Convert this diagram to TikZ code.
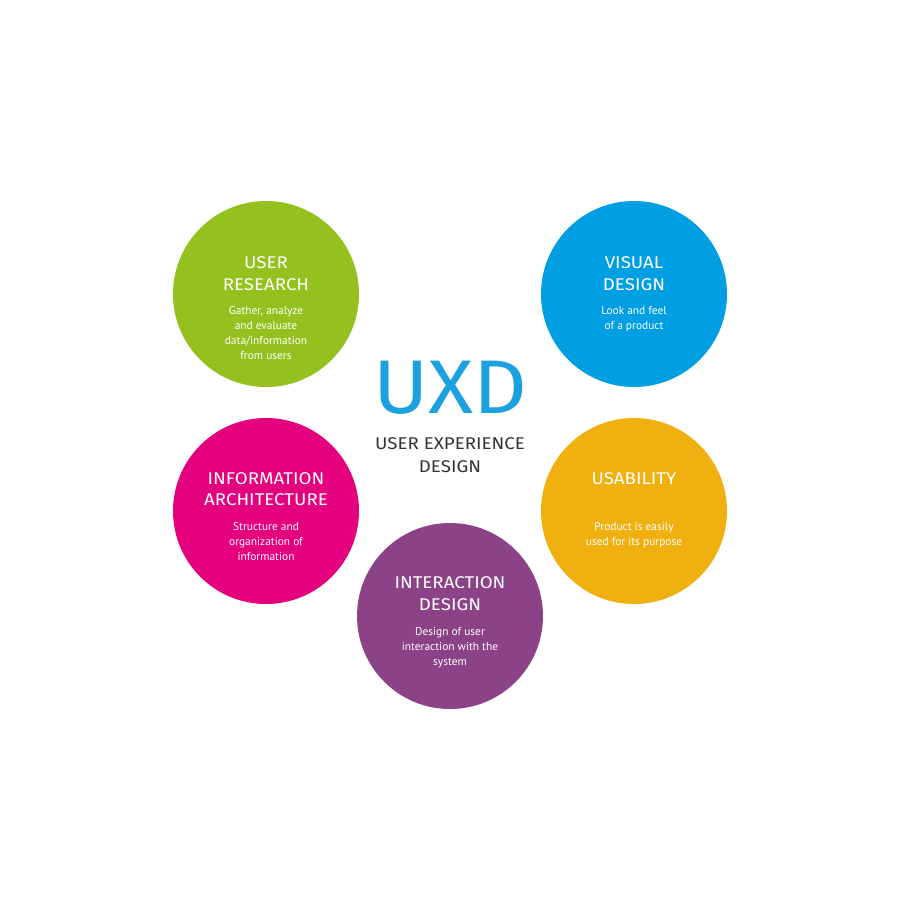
\documentclass[tikz,border=0pt]{standalone}
\usepackage{fontspec}
\setmainfont{PT Sans}
\newfontfamily\headfont{Fira Sans}
\definecolor{cgreen}{HTML}{95C11F}
\definecolor{cblue}{HTML}{009FE3}
\definecolor{cpink}{HTML}{E5007E}
\definecolor{cyellow}{HTML}{F0B110}
\definecolor{cpurple}{HTML}{8C4286}
\definecolor{uxdblue}{HTML}{1BA0E0}
\definecolor{uxdgray}{HTML}{333333}
\begin{document}
\begin{tikzpicture}[x=1pt,y=-1pt,
  bubble/.style={circle,minimum size=186pt,inner sep=0pt,draw=none},
  head/.style={anchor=base,inner sep=0pt,text=white,xscale=1.1,font=\headfont\fontsize{17}{20}\selectfont},
  body/.style={anchor=base,inner sep=0pt,text=white,font=\fontsize{11.4}{13}\selectfont},
  uxd/.style={anchor=base,inner sep=0pt,text=uxdblue,xscale=1.1,font=\headfont\fontsize{76}{80}\selectfont},
  sub/.style={anchor=base,inner sep=0pt,text=uxdgray,xscale=1.1,font=\headfont\fontsize{17}{20}\selectfont}]
\useasboundingbox[fill=white] (0,0) rectangle (900,900);
% circles
\node[bubble,fill=cgreen] (ur) at (266,294) {};
\node[bubble,fill=cblue] (vd) at (634,294) {};
\node[bubble,fill=cpink] (ia) at (266,511) {};
\node[bubble,fill=cyellow] (us) at (634,511) {};
\node[bubble,fill=cpurple] (id) at (450,616) {};
% centre
\node[uxd] (uxdt) at (450,413) {UXD};
\node[sub] (sub1) at (450,449) {USER EXPERIENCE};
\node[sub] (sub2) at (450,472) {DESIGN};
% user research
\node[head] (ur1) at (266,268) {USER};
\node[head] (ur2) at (266,290) {RESEARCH};
\node[body] (ur3) at (266,314) {Gather, analyze};
\node[body] (ur4) at (266,329) {and evaluate};
\node[body] (ur5) at (266,344) {data/information};
\node[body] (ur6) at (266,359) {from users};
% visual design
\node[head] (vd1) at (634,268) {VISUAL};
\node[head] (vd2) at (634,290) {DESIGN};
\node[body] (vd3) at (634,314) {Look and feel};
\node[body] (vd4) at (634,329) {of a product};
% information architecture
\node[head] (ia1) at (266,484) {INFORMATION};
\node[head] (ia2) at (266,505) {ARCHITECTURE};
\node[body] (ia3) at (266,530) {Structure and};
\node[body] (ia4) at (266,545) {organization of};
\node[body] (ia5) at (266,560) {information};
% usability
\node[head] (us1) at (634,484) {USABILITY};
\node[body] (us2) at (634,530) {Product is easily};
\node[body] (us3) at (634,545) {used for its purpose};
% interaction design
\node[head] (id1) at (450,588) {INTERACTION};
\node[head] (id2) at (450,610) {DESIGN};
\node[body] (id3) at (450,635) {Design of user};
\node[body] (id4) at (450,650) {interaction with the};
\node[body] (id5) at (450,665) {system};
\end{tikzpicture}
\end{document}
